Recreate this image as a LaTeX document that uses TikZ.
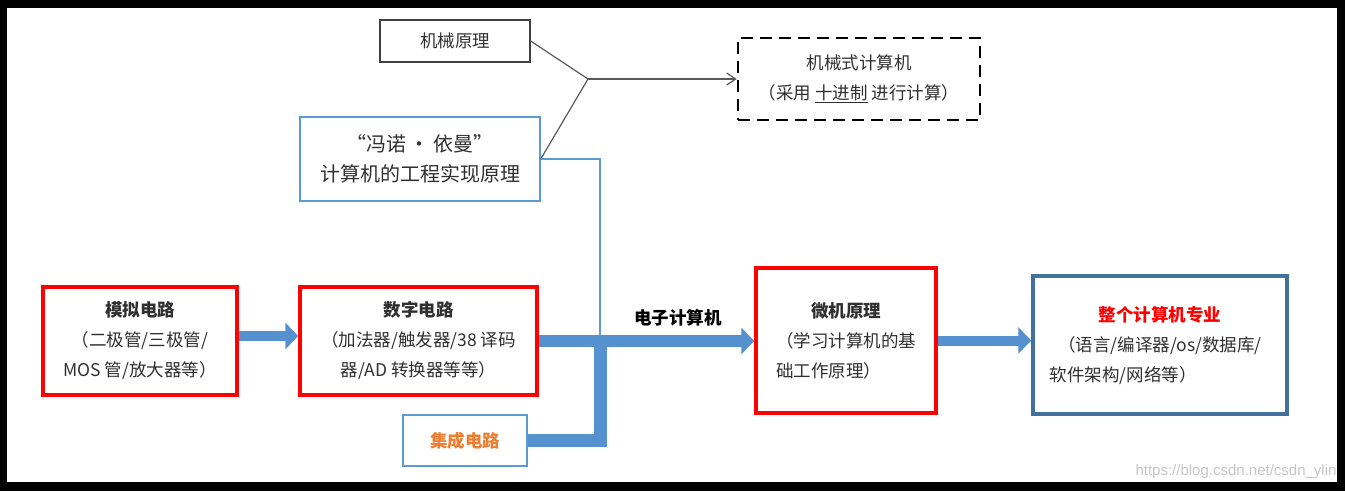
\documentclass[tikz,border=0pt]{standalone}
\usepackage{fontspec}
\newfontfamily\cjk{Noto Sans CJK SC}
\newfontfamily\wmfont{Liberation Sans}
\usetikzlibrary{arrows.meta, positioning}
\definecolor{boxred}{HTML}{FF0000}
\definecolor{lineblue}{HTML}{5B9BD5}
\definecolor{edgeblue}{HTML}{41719C}
\definecolor{fillblue}{HTML}{5590CF}
\definecolor{icorange}{HTML}{ED7D31}
\definecolor{txtgray}{HTML}{303030}
\tikzset{
  plainbox/.style={rectangle, draw=black!75, line width=1.3pt, align=center, inner sep=0pt},
  bluebox/.style={rectangle, draw=lineblue, line width=1.5pt, align=center, inner sep=0pt},
  redbox/.style={rectangle, draw=boxred, line width=3.5pt, align=center, inner sep=0pt},
  darkbox/.style={rectangle, draw=edgeblue, line width=3.5pt, align=center, inner sep=0pt},
  dashbox/.style={rectangle, draw=black, line width=2.5pt, dash pattern=on 12pt off 7pt,
                  align=center, inner sep=0pt},
  thinline/.style={draw=black!65, line width=1.2pt},
  fatarrow/.style={-{Triangle[length=13pt, width=26pt]}, draw=fillblue},
  bus/.style={draw=fillblue, line width=13pt},
}

\begin{document}
\begin{tikzpicture}[x=1pt, y=-1pt, font=\cjk\fontsize{17.5}{30}\selectfont, text=txtgray]
  % screen frame
  \fill[black] (0,0) rectangle (1345,491);
  \fill[white] (7,8) rectangle (1337,482);

  \node[plainbox, minimum width=150pt, minimum height=42pt] (jx) at (455,41) {机械原理};
  \node[bluebox, minimum width=240pt, minimum height=84pt,
        font=\cjk\fontsize{20}{30}\selectfont] (fn) at (420,159)
        {“冯诺\,·\,依曼”\\计算机的工程实现原理};
  \node[dashbox, minimum width=242pt, minimum height=82pt] (jxs) at (859,79)
        {机械式计算机\\（采用 \underline{十进制} 进行计算）};

  \node[redbox, minimum width=194pt, minimum height=108pt] (ml) at (140,341)
        {\textbf{模拟电路}\\（二极管/三极管/\\MOS 管/放大器等）};
  \node[redbox, minimum width=237pt, minimum height=108pt, right=59.5pt of ml] (sz)
        {\textbf{数字电路}\\（加法器/触发器/38 译码\\器/AD 转换器等等）};
  \node[bluebox, minimum width=124pt, minimum height=51pt, text=icorange] (jc) at (465,440.5)
        {\textbf{集成电路}};
  \node[redbox, minimum width=180pt, minimum height=145pt] (wj) at (846,340.5)
        {\textbf{微机原理}\\（学习计算机的基\\础工作原理）\hphantom{基基}};
  \node[darkbox, minimum width=254pt, minimum height=138pt] (zg) at (1160,345)
        {\textcolor{boxred}{\textbf{整个计算机专业}}\\（语言/编译器/os/数据库/\\软件架构/网络等）\hphantom{数据/os//}};

  \coordinate (jn) at (588,79);
  \coordinate (bj) at (600,339);

  % mechanical branch
  \foreach \a in {jx, fn}
    \draw[thinline] (\a.east) -- (jn);
  \draw[thinline, -{Straight Barb[length=9pt, width=12pt]}] (jn) -- (jxs);

  % electronic branch
  \draw[lineblue, line width=2pt] (fn.east) -| (bj);
  \draw[bus] (jc.east) -| (bj);
  \draw[fatarrow, line width=12pt] (sz.east) -- (sz.east -| wj.west);
  \draw[fatarrow, line width=10pt] ([yshift=5pt]ml.east) -- ([yshift=5pt]sz.west);
  \draw[fatarrow, line width=10pt] (wj.east) -- (wj.east -| zg.west);
  \node[font=\cjk\fontsize{17.5}{30}\selectfont\bfseries, text=black] (dz) at (678,318) {电子计算机};

  \begin{scope}
    \clip (7,8) rectangle (1337,482);
    \node[anchor=east, font=\wmfont\fontsize{15}{15}\selectfont, text=black!22] (wm) at (1340,472)
          {https://blog.csdn.net/csdn\_ylin};
  \end{scope}
\end{tikzpicture}
\end{document}
